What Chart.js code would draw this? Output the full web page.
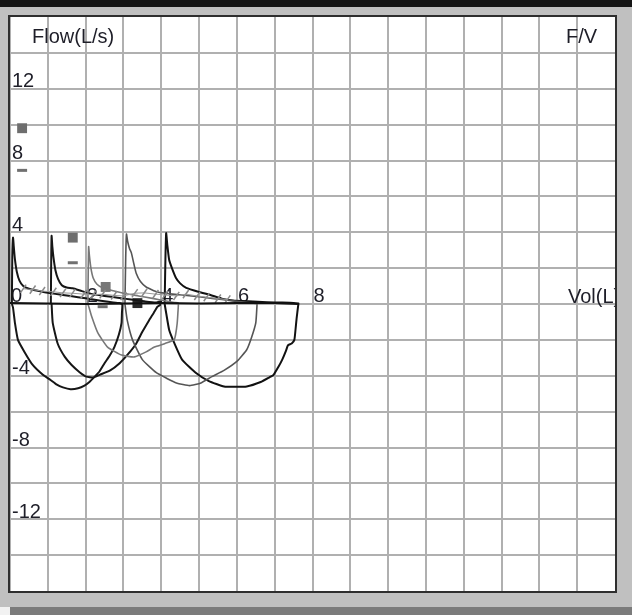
<!DOCTYPE html>
<html>
<head>
<meta charset="utf-8">
<script src="https://cdn.jsdelivr.net/npm/chart.js@4.4.1/dist/chart.umd.min.js"></script>
<style>
  html, body { margin: 0; padding: 0; }
  body { width: 632px; height: 615px; overflow: hidden; background: #c0c0c0; position: relative; }
  #topbar { position: absolute; left: 0; top: 0; width: 632px; height: 7px; background: #151515; }
  #frame { position: absolute; left: 8px; top: 15px; width: 605px; height: 574px; border: 2px solid #2e2e2e; background: #fff; }
  #frame canvas { display: block; }
  #bottombar { position: absolute; left: 10px; top: 607px; width: 622px; height: 8px; background: #7b7b7b; }
  #corner { position: absolute; left: 0; top: 607px; width: 10px; height: 8px; background: #f2f2f2; }
</style>
</head>
<body>
<div id="topbar"></div>
<div id="frame"><canvas id="fv" width="605" height="574"></canvas></div>
<div id="corner"></div>
<div id="bottombar"></div>
<script>
// flow-volume loops, 5 trials shifted along volume axis
// each loop: expiration (top, left->right) then inspiration (bottom, back to start)
const volA = [0.05, 0.06, 0.08, 0.10, 0.13, 0.18, 0.25, 0.35, 0.50, 0.70, 1.00, 1.40, 1.80, 2.20, 2.60, 2.90, 2.97,
              2.96, 2.95, 2.88, 2.76, 2.63, 2.50, 2.37, 2.24, 2.10, 1.97, 1.80, 1.60, 1.40, 1.24, 1.05, 0.87, 0.60, 0.39, 0.21, 0.13, 0.08, 0.05];
const flowA = [0, 2.6, 3.7, 3.2, 2.5, 1.8, 1.3, 1.0, 0.85, 0.75, 0.62, 0.50, 0.38, 0.25, 0.12, 0.05, 0,
               -0.5, -1.05, -1.7, -2.4, -2.9, -3.3, -3.75, -4.05, -4.35, -4.55, -4.7, -4.75, -4.65, -4.5, -4.2, -3.95, -3.4, -2.7, -2.0, -1.05, -0.2, 0];

const volB = [1.08, 1.09, 1.10, 1.12, 1.15, 1.20, 1.27, 1.37, 1.50, 1.66, 1.90, 2.18, 2.50, 2.85, 3.20, 3.55, 3.85, 4.00,
              3.97, 3.90, 3.80, 3.68, 3.50, 3.34, 3.12, 2.90, 2.65, 2.37, 2.20, 2.02, 1.84, 1.63, 1.45, 1.26, 1.13, 1.10];
const flowB = [0, 2.5, 3.8, 3.2, 2.6, 1.9, 1.4, 1.05, 0.92, 0.88, 0.72, 0.55, 0.45, 0.35, 0.25, 0.15, 0.08, 0.15,
               -0.05, -0.15, -0.5, -0.9, -1.55, -2.2, -2.8, -3.3, -3.7, -3.95, -4.1, -4.05, -3.8, -3.4, -2.95, -2.2, -1.05, 0];

const volC = [2.06, 2.07, 2.08, 2.10, 2.14, 2.20, 2.30, 2.45, 2.70, 3.00, 3.40, 3.80, 4.10, 4.35, 4.45,
              4.44, 4.42, 4.38, 4.34, 4.10, 3.82, 3.60, 3.29, 2.95, 2.58, 2.32, 2.16, 2.09, 2.06];
const flowC = [0, 2.0, 3.2, 2.7, 2.0, 1.45, 1.1, 0.9, 0.75, 0.6, 0.45, 0.3, 0.18, 0.08, 0.05,
               -0.5, -1.1, -1.7, -2.0, -2.2, -2.4, -2.67, -2.95, -2.85, -2.4, -1.6, -0.7, -0.2, 0];

const volD = [3.04, 3.06, 3.08, 3.11, 3.16, 3.21, 3.28, 3.34, 3.45, 3.60, 3.90, 4.30, 4.80, 5.20, 5.60, 6.00, 6.35, 6.53,
              6.53, 6.50, 6.39, 6.26, 6.00, 5.66, 5.34, 5.05, 4.75, 4.40, 4.15, 3.87, 3.50, 3.24, 3.10, 3.04];
const flowD = [0, 2.6, 3.9, 3.5, 3.1, 2.85, 2.2, 1.7, 1.25, 0.95, 0.67, 0.55, 0.45, 0.35, 0.25, 0.15, 0.07, 0.03,
               -0.15, -1.05, -1.85, -2.55, -3.2, -3.7, -4.05, -4.4, -4.55, -4.4, -4.15, -3.83, -3.1, -2.0, -0.9, 0];

const volE = [4.09, 4.11, 4.13, 4.16, 4.21, 4.30, 4.39, 4.50, 4.66, 5.00, 5.30, 5.60, 5.90, 6.30, 6.80, 7.20, 7.50, 7.63,
              7.62, 7.58, 7.55, 7.52, 7.45, 7.35, 7.30, 7.20, 7.10, 6.97, 6.85, 6.63, 6.26, 5.95, 5.66, 5.26, 4.92, 4.55, 4.34, 4.21, 4.13, 4.09];
const flowE = [0, 2.5, 3.95, 3.3, 2.45, 1.9, 1.45, 1.15, 0.9, 0.67, 0.5, 0.3, 0.2, 0.15, 0.1, 0.08, 0.06, 0.03,
               -0.1, -0.8, -1.45, -2.0, -2.2, -2.3, -2.6, -3.1, -3.5, -3.95, -4.1, -4.35, -4.6, -4.62, -4.6, -4.3, -3.85, -3.1, -2.15, -1.45, -0.5, 0];

// flat zero-flow trace
const baseVol = [0.0, 1.0, 2.0, 3.0, 4.0, 5.0, 6.0, 7.0, 7.63];
const baseFlow = [0.05, 0.03, 0.0, 0.03, 0.05, 0.03, 0.06, 0.05, 0.0];

// light trace with tick marks along the tails
const tickVol = [0.35, 0.60, 0.85, 1.15, 1.40, 1.65, 1.95, 2.20, 2.45, 2.75, 3.00, 3.30, 3.55, 3.85, 4.10, 4.40, 4.65, 4.95, 5.20, 5.50, 5.75];
const tickFlow = [0.85, 0.80, 0.72, 0.68, 0.62, 0.60, 0.55, 0.52, 0.55, 0.48, 0.45, 0.60, 0.62, 0.55, 0.50, 0.45, 0.55, 0.45, 0.38, 0.30, 0.25];

// markers (squares and dashes)
const sqVol = [0.32, 1.66, 2.53, 3.37];
const sqFlow = [9.8, 3.7, 0.95, 0.05];
const dashVol = [0.32, 1.66, 2.45];
const dashFlow = [7.45, 2.3, -0.15];

// axis labels
const xLabels = [0, 2, 4, 6, 8];
const yLabels = [12, 8, 4, -4, -8, -12];

const pts = (xs, ys) => xs.map((x, i) => ({ x: x, y: ys[i] }));

const textFont = { family: '"Liberation Sans", Arial, sans-serif', size: 20 };
const textColor = '#1e1e28';
const gridColor = '#b0b0b0';

function loop(xs, ys, color, width) {
    return {
        data: pts(xs, ys),
        showLine: true,
        borderColor: color,
        borderWidth: width,
        pointRadius: 0,
        tension: 0.15,
        fill: false
    };
}

const cornerLabels = {
    id: 'cornerLabels',
    afterDraw(chart) {
        const { ctx, chartArea, scales } = chart;
        ctx.save();
        ctx.font = '20px "Liberation Sans", Arial, sans-serif';
        ctx.fillStyle = textColor;
        ctx.textBaseline = 'middle';
        ctx.textAlign = 'left';
        ctx.fillText('Flow(L/s)', chartArea.left + 22, chartArea.top + 20);
        ctx.fillText('F/V', chartArea.right - 49, chartArea.top + 20);
        ctx.fillText('Vol(L)', chartArea.right - 47, scales.y.getPixelForValue(0) - 7);
        ctx.restore();
    }
};

// keep axes from eating into the plot area
function noBox(s) {
    if (s.isHorizontal()) { s.height = 0; } else { s.width = 0; }
    s.paddingTop = 0; s.paddingBottom = 0; s.paddingLeft = 0; s.paddingRight = 0;
}

new Chart(document.getElementById('fv'), {
    type: 'scatter',
    data: {
        datasets: [
            { data: pts(baseVol, baseFlow), showLine: true, borderColor: '#111', borderWidth: 2, pointRadius: 0 },
            {
                data: pts(tickVol, tickFlow), showLine: true, borderColor: '#9a9a9a', borderWidth: 1,
                pointStyle: 'line', pointRotation: -55, pointRadius: 5, pointBorderColor: '#8a8a8a', pointBorderWidth: 1.5
            },
            loop(volC, flowC, '#777777', 1.6),
            loop(volD, flowD, '#555555', 1.6),
            loop(volA, flowA, '#161616', 2),
            loop(volB, flowB, '#161616', 2),
            loop(volE, flowE, '#111111', 2),
            {
                data: pts(sqVol, sqFlow), pointStyle: 'rect', pointRadius: 7, borderWidth: 0,
                backgroundColor: ['#6e6e6e', '#6e6e6e', '#777777', '#2a2a2a'],
                pointBorderColor: ['#6e6e6e', '#6e6e6e', '#777777', '#2a2a2a']
            },
            {
                data: pts(dashVol, dashFlow), pointStyle: 'line', pointRadius: 5,
                pointBorderColor: '#707070', pointBorderWidth: 3
            }
        ]
    },
    options: {
        responsive: false,
        animation: false,
        events: [],
        layout: { padding: 0, autoPadding: false },
        plugins: { legend: { display: false }, tooltip: { enabled: false } },
        scales: {
            x: {
                type: 'linear', min: 0, max: 16,
                position: { y: 0 },
                grid: { color: gridColor, lineWidth: 2, drawTicks: false },
                border: { display: false },
                ticks: {
                    stepSize: 1, autoSkip: false, maxRotation: 0, minRotation: 0,
                    align: 'start', mirror: true, padding: 4, labelOffset: 1,
                    font: textFont, color: textColor,
                    callback: v => v === 16 ? null : (xLabels.includes(v) ? String(v) : '')
                },
                afterFit: noBox
            },
            y: {
                type: 'linear', min: -16, max: 16, position: 'left',
                grid: { color: gridColor, lineWidth: 2, drawTicks: false },
                border: { display: false },
                ticks: {
                    stepSize: 2, autoSkip: false, mirror: true, padding: 2, labelOffset: -7,
                    font: textFont, color: textColor,
                    callback: v => Math.abs(v) === 16 ? null : (yLabels.includes(v) ? String(v) : '')
                },
                afterFit: noBox
            }
        }
    },
    plugins: [cornerLabels]
});
</script>
</body>
</html>
